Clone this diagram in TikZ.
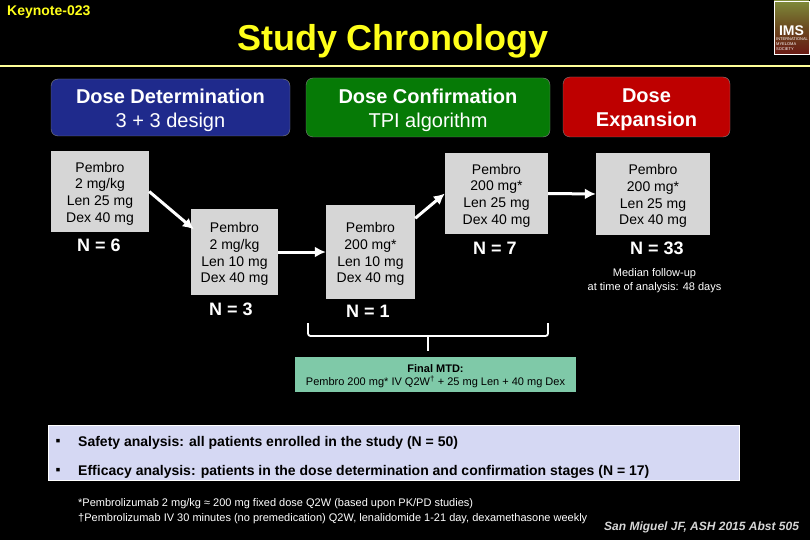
\documentclass[tikz,border=0pt]{standalone}
\usepackage{fontspec}
\setmainfont{Liberation Sans}
\usetikzlibrary{arrows.meta, positioning, calc}
\definecolor{titleyellow}{HTML}{FFFF1A}
\definecolor{rulecol}{HTML}{FFFF99}
\definecolor{doseblue}{HTML}{1F2A8C}
\definecolor{dosegreen}{HTML}{067A06}
\definecolor{dosered}{HTML}{BE0000}
\definecolor{armgray}{HTML}{D6D6D6}
\definecolor{mtdgreen}{HTML}{7FC9A8}
\definecolor{panelblue}{HTML}{D5D8F3}
\definecolor{logotop}{HTML}{7E8A3A}
\definecolor{logomid}{HTML}{6B4A20}
\definecolor{logobot}{HTML}{6A1A14}
\newcommand{\topgap}[1]{\rule{0pt}{#1}}

\begin{document}
\begin{tikzpicture}[
    x=1pt, y=-1pt,
    >={Latex[length=11pt,width=11pt]},
    header/.style={draw=gray, rounded corners=7pt, align=center, text=white, font=\fontsize{20}{24}\selectfont, inner sep=0pt},
    arm/.style={fill=armgray, align=center, text=black, font=\fontsize{14}{16.6}\selectfont, inner sep=0pt},
    count/.style={text=white, font=\bfseries\fontsize{18}{20}\selectfont, inner sep=0pt},
    arrow/.style={->, draw=white, line width=3pt},
    bracket/.style={draw=white, line width=1.8pt, rounded corners=2.5pt}
]
\useasboundingbox[fill=black] (0,0) rectangle (810,540);

% Title
\node[text=titleyellow, font=\bfseries\fontsize{14}{16}\selectfont, inner sep=0pt, anchor=west] (study) at (7,12.5) {Keynote-023};
\node[text=titleyellow, font=\bfseries\fontsize{36}{42}\selectfont, inner sep=0pt, anchor=base] (title) at (393,51) {Study Chronology};
\draw[rulecol, line width=1.6pt] (0,66) -- (810,66);

% Logo
\node[draw=white, top color=logotop, bottom color=logobot, middle color=logomid, line width=0.5pt, minimum width=35pt, minimum height=53pt, inner sep=0pt] (logo) at (791.5,27.5) {};
\node[text=white, font=\bfseries\fontsize{14}{15}\selectfont, inner sep=0pt] (logotext) at (791.5,31) {IMS};
\node[text=white, font=\fontsize{4}{5}\selectfont, inner sep=0pt, align=left, anchor=north west] (logosub) at (776,38) {INTERNATIONAL\\MYELOMA\\SOCIETY};

% Stage headers
\node[header, fill=doseblue, minimum width=239pt, minimum height=57pt] (determination) at (170.5,107.5) {\topgap{20pt}\textbf{Dose Determination}\\3 + 3 design};
\node[header, fill=dosegreen, minimum width=244pt, minimum height=59pt] (confirmation) at (428,107.5) {\topgap{20pt}\textbf{Dose Confirmation}\\TPI algorithm};
\node[header, fill=dosered, minimum width=167pt, minimum height=60pt] (expansion) at (646.5,107) {\topgap{20pt}\textbf{Dose}\\\textbf{Expansion}};

% Dose levels
\node[arm, minimum width=98pt, minimum height=81pt] (level1) at (100,191.5) {\topgap{14.5pt}Pembro\\2 mg/kg\\Len 25 mg\\Dex 40 mg};
\node[arm, minimum width=87pt, minimum height=86pt] (level2) at (234.5,252) {\topgap{14.5pt}Pembro\\2 mg/kg\\Len 10 mg\\Dex 40 mg};
\node[arm, minimum width=89pt, minimum height=94pt] (level3) at (370.5,252) {\topgap{14.5pt}Pembro\\200 mg*\\Len 10 mg\\Dex 40 mg};
\node[arm, minimum width=103pt, minimum height=81pt] (level4) at (496.5,193.5) {\topgap{14.5pt}Pembro\\200 mg*\\Len 25 mg\\Dex 40 mg};
\node[arm, minimum width=114pt, minimum height=82pt] (level5) at (653,194) {\topgap{14.5pt}Pembro\\200 mg*\\Len 25 mg\\Dex 40 mg};

\draw[arrow, shorten >=-4pt] (level1.east) -- (level2.150);
\draw[arrow] (level2.east) -- (level3.west);
\draw[arrow] (level3.37) -- (level4.west);
\draw[arrow] (level4.east) -- (level5.west);

% Patient counts
\node[count] (n1) at (99,245) {N = 6};
\node[count] (n2) at (231,309) {N = 3};
\node[count] (n3) at (368,311) {N = 1};
\node[count] (n4) at (495,248) {N = 7};
\node[count] (n5) at (657,248) {N = 33};
\node[text=white, align=center, inner sep=0pt, font=\fontsize{11}{14}\selectfont] (followup) at (654.5,280.5) {Median follow-up\\at time of analysis: 48 days};

% Final dose
\node[fill=mtdgreen, minimum width=281pt, minimum height=35pt, align=center, inner sep=0pt, text=black, font=\fontsize{11}{13}\selectfont] (mtd) at (435.5,374.5) {\topgap{11pt}\textbf{Final MTD:}\\Pembro 200 mg* IV Q2W\textsuperscript{†} + 25 mg Len + 40 mg Dex};
\coordinate (brackettl) at (308,323);
\coordinate (brackettr) at (548,323);
\coordinate (bracketmid) at (428,336);
\draw[bracket] (brackettl) |- (bracketmid) -| (brackettr);
\draw[draw=white, line width=1.8pt, shorten >=6pt] (bracketmid) -- (bracketmid |- mtd.north);

% Analysis sets
\node[draw=white, fill=panelblue, minimum width=691pt, minimum height=55pt, inner sep=0pt] (panel) at (393.5,452.5) {};
\node[text=black, inner sep=0pt, anchor=center, font=\bfseries\fontsize{14}{15}\selectfont] (bullet1) at (58,442) {▪};
\node[text=black, inner sep=0pt, anchor=center, font=\bfseries\fontsize{14}{15}\selectfont] (bullet2) at (58,471) {▪};
\node[text=black, inner sep=0pt, anchor=west, font=\bfseries\fontsize{14}{16}\selectfont] (safety) at (78,443) {Safety analysis: all patients enrolled in the study (N = 50)};
\node[text=black, inner sep=0pt, anchor=west, font=\bfseries\fontsize{14}{16}\selectfont] (efficacy) at (78,472) {Efficacy analysis: patients in the dose determination and confirmation stages (N = 17)};

% Footnotes
\node[text=white, inner sep=0pt, anchor=west, font=\fontsize{11}{13}\selectfont] (note1) at (78,504) {*Pembrolizumab 2 mg/kg ≈ 200 mg fixed dose Q2W (based upon PK/PD studies)};
\node[text=white, inner sep=0pt, anchor=west, font=\fontsize{11}{13}\selectfont] (note2) at (78,519) {†Pembrolizumab IV 30 minutes (no premedication) Q2W, lenalidomide 1-21 day, dexamethasone weekly};
\node[text=armgray, inner sep=0pt, anchor=west, font=\bfseries\itshape\fontsize{12}{14}\selectfont] (source) at (604,527) {San Miguel JF, ASH 2015 Abst 505};

\end{tikzpicture}
\end{document}
